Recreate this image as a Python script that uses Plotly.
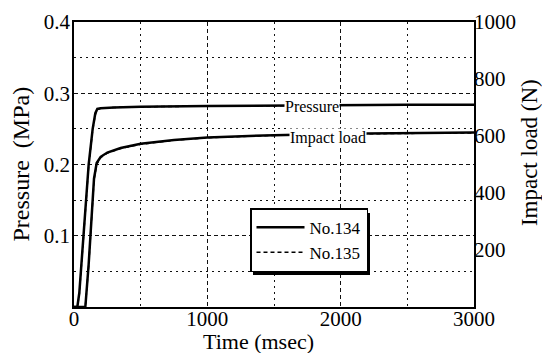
import plotly.graph_objects as go

# ---- data ----
t_p = [0, 25, 40, 70, 110, 140, 160, 175, 200, 300, 500, 1000, 1500, 2000, 2500, 3000]
pressure_134 = [0, 0, 0.02, 0.10, 0.20, 0.25, 0.272, 0.278, 0.279, 0.280, 0.281, 0.282, 0.283, 0.283, 0.284, 0.284]
pressure_135 = [0, 0, 0.018, 0.098, 0.198, 0.248, 0.270, 0.277, 0.279, 0.280, 0.281, 0.282, 0.283, 0.283, 0.283, 0.283]

t_l = [0, 85, 110, 130, 150, 170, 200, 250, 350, 500, 750, 1000, 1500, 2000, 2500, 3000]
load_134 = [0, 0, 150, 300, 450, 505, 527, 542, 558, 573, 586, 595, 603, 608, 610, 612]
load_135 = [0, 0, 145, 295, 445, 500, 524, 540, 556, 571, 585, 594, 602, 607, 609, 611]

x_ticks = [0, 1000, 2000, 3000]
x_minor = [500, 1500, 2500]
y_ticks = [0.1, 0.2, 0.3, 0.4]
y_minor = [0.05, 0.15, 0.25, 0.35]
y2_ticks = [200, 400, 600, 800, 1000]

FONT = "Liberation Serif"
DASH = "4px,3px"
DOT = "2px,4px"

fig = go.Figure()
fig.add_trace(go.Scatter(x=t_p, y=pressure_134, mode="lines", name="No.134",
                         line=dict(color="black", width=2.5), showlegend=True))
fig.add_trace(go.Scatter(x=t_p, y=pressure_135, mode="lines", name="No.135",
                         line=dict(color="black", width=1.5, dash=DASH), showlegend=True))
fig.add_trace(go.Scatter(x=t_l, y=load_134, mode="lines", name="No.134", yaxis="y2",
                         line=dict(color="black", width=2.5), showlegend=False))
fig.add_trace(go.Scatter(x=t_l, y=load_135, mode="lines", name="No.135", yaxis="y2",
                         line=dict(color="black", width=1.5, dash=DASH), showlegend=False))

grid_major = dict(showgrid=True, gridcolor="#111", gridwidth=1, griddash=DASH)

fig.update_layout(
    width=542, height=353,
    margin=dict(l=74, r=68, t=22, b=46),
    paper_bgcolor="white", plot_bgcolor="white",
    font=dict(family=FONT, size=21, color="black"),
    xaxis=dict(range=[0, 3000], tickvals=x_ticks, ticks="", showline=True, linecolor="black",
               linewidth=1.5, mirror=True, zeroline=False, automargin=False, ticklabelstandoff=-8,
               minor=dict(tickvals=x_minor, showgrid=True, gridcolor="#111",
                          griddash=DOT, gridwidth=1),
               **grid_major),
    yaxis=dict(range=[0, 0.4], tickvals=y_ticks, ticks="", showline=True, linecolor="black",
               linewidth=1.5, mirror=True, zeroline=False, tickformat=".1f", automargin=False,
               ticklabelstandoff=-2,
               minor=dict(tickvals=y_minor, showgrid=True, gridcolor="#111",
                          griddash=DOT, gridwidth=1),
               **grid_major),
    yaxis2=dict(range=[0, 1000], tickvals=y2_ticks, overlaying="y", side="right", ticks="",
                showgrid=False, zeroline=False, showline=False, automargin=False,
                ticklabelstandoff=-1),
    legend=dict(x=0.44, y=0.347, xanchor="left", yanchor="top", bgcolor="white",
                bordercolor="black", borderwidth=1.5, font=dict(size=17, family=FONT),
                itemwidth=48),
    showlegend=True,
)

# axis titles
fig.add_annotation(text="Time (msec)", xref="paper", yref="paper", x=0.46, y=0, yshift=-34,
                   showarrow=False, font=dict(size=22, family=FONT), yanchor="middle")
fig.add_annotation(text="Pressure  (MPa)", xref="paper", yref="paper", x=0, xshift=-54, y=0.5,
                   textangle=-90, showarrow=False, font=dict(size=24, family=FONT), xanchor="center")
fig.add_annotation(text="Impact load (N)", xref="paper", yref="paper", x=1, xshift=55, y=0.54,
                   textangle=-90, showarrow=False, font=dict(size=23, family=FONT), xanchor="center")

# legend drop shadow
fig.add_shape(type="rect", xref="paper", yref="paper", x0=0.4475, x1=0.74, y0=0.112, y1=0.33,
              fillcolor="black", line=dict(width=0), layer="above")

fig.add_annotation(x=1785, y=0.281, xref="x", yref="y", text="Pressure", showarrow=False,
                   bgcolor="white", font=dict(size=16, family=FONT), borderpad=0)
fig.add_annotation(x=1905, y=592, xref="x", yref="y2", text="Impact load", showarrow=False,
                   bgcolor="white", font=dict(size=16, family=FONT), borderpad=0)

fig.write_html("out.html", config={"displayModeBar": False},
               post_script="document.body.style.margin='0';")
